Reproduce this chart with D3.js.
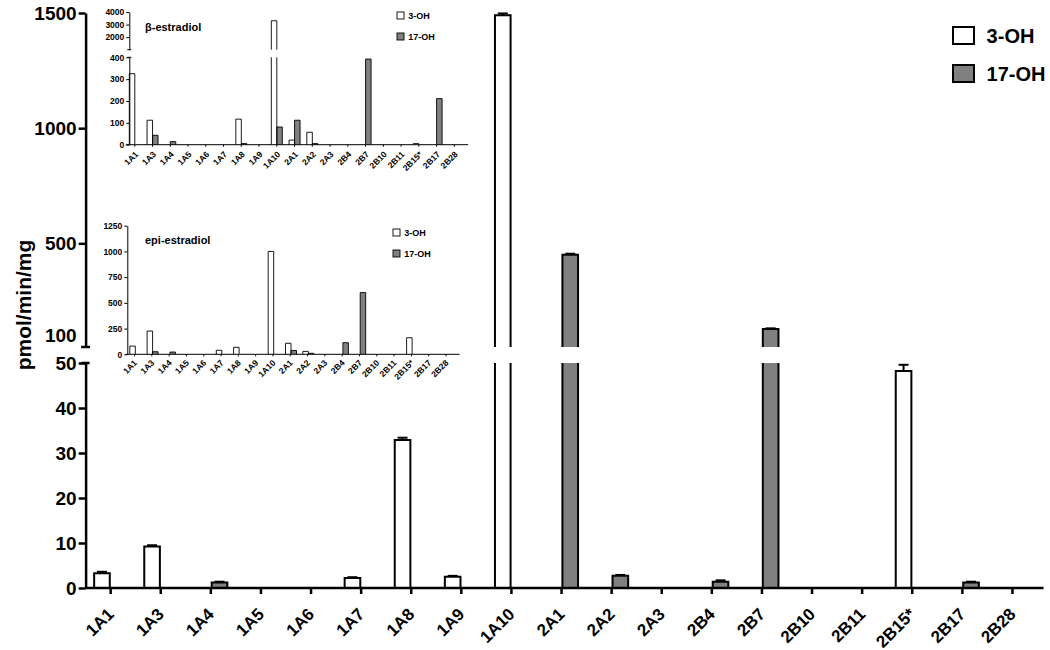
<!DOCTYPE html>
<html>
<head>
<meta charset="utf-8">
<script src="https://cdn.jsdelivr.net/npm/d3@7"></script>
<style>
  body { margin: 0; background: #fff; }
  text { font-family: "Liberation Sans", Arial, sans-serif; font-weight: bold; }
</style>
</head>
<body>
<script>
// categories and series
const categories = ["1A1", "1A3", "1A4", "1A5", "1A6", "1A7", "1A8", "1A9", "1A10", "2A1",
    "2A2", "2A3", "2B4", "2B7", "2B10", "2B11", "2B15*", "2B17", "2B28"];
const series = ["3-OH", "17-OH"];

// main chart values (pmol/min/mg) with SEM
const mainOH3 = [3.3, 9.2, null, null, null, 2.2, 32.9, 2.5, 1490, null,
    null, null, null, null, null, null, 48.2, null, null];
const mainOH3Err = [0.3, 0.3, 0, 0, 0, 0.2, 0.5, 0.2, 8, 0,
    0, 0, 0, 0, 0, 0, 1.4, 0, 0];
const mainOH17 = [null, null, 1.2, null, null, null, null, null, null, 450,
    2.7, null, 1.4, 128, null, null, null, 1.2, null];
const mainOH17Err = [0, 0, 0.2, 0, 0, 0, 0, 0, 0, 5,
    0.2, 0, 0.3, 3, 0, 0, 0, 0.2, 0];

// inset: beta-estradiol
const betaOH3 = [325, 112, null, null, null, null, 117, null, 3300, 21,
    57, null, null, null, null, null, 5, null, null];
const betaOH17 = [null, 43, 14, null, null, null, 5, null, 81, 112,
    5, null, null, 392, null, null, null, 211, null];

// inset: epi-estradiol
const epiOH3 = [80, 226, null, null, null, 39, 68, null, 1000, 107,
    28, null, null, null, null, null, 161, null, null];
const epiOH17 = [null, 25, 22, null, null, null, null, null, null, 37,
    10, null, 113, 600, null, null, null, null, null];

// tick labels
const mainTopTicks = [100, 500, 1000, 1500];
const mainLowTicks = [0, 10, 20, 30, 40, 50];
const betaTopTicks = [2000, 3000, 4000];
const betaLowTicks = [0, 100, 200, 300, 400];
const epiTicks = [0, 250, 500, 750, 1000, 1250];

const fills = {"3-OH": "#ffffff", "17-OH": "#808080"};

const svg = d3.select('body')
    .append('svg')
    .attr('width', 1050)
    .attr('height', 650);

// draws the bars of one axis segment, left open where the axis is cut
function drawBars(g, x, sub, seg, values, sw) {
    const [lo, hi] = seg.y.domain();
    const rows = [];
    categories.forEach((c, i) => series.forEach((s, si) => {
        const v = values[si][i];
        if (v != null && v > lo) rows.push({c: c, s: s, v: v});
    }));
    const g2 = g.append('g');
    g2.selectAll('rect')
        .data(rows)
        .join('rect')
        .attr('x', d => x(d.c) + sub(d.s))
        .attr('y', d => seg.y(Math.min(d.v, hi)))
        .attr('width', sub.bandwidth())
        .attr('height', d => seg.y(lo) - seg.y(Math.min(d.v, hi)))
        .attr('fill', d => fills[d.s]);
    g2.selectAll('path')
        .data(rows)
        .join('path')
        .attr('fill', 'none')
        .attr('stroke', '#000')
        .attr('stroke-width', sw)
        .attr('d', d => {
            const x0 = x(d.c) + sub(d.s), x1 = x0 + sub.bandwidth();
            const yb = seg.y(lo), yt = seg.y(Math.min(d.v, hi));
            return `M${x0},${yb}V${yt}` + (d.v <= hi ? `H${x1}` : `M${x1},${yt}`) + `V${yb}`;
        });
}

function drawYAxis(g, xPos, seg, ticks, size, fontSize, sw, cap) {
    const ax = g.append('g')
        .attr('transform', `translate(${xPos},0)`)
        .call(d3.axisLeft(seg.y).tickValues(ticks).tickFormat(d3.format('d'))
            .tickSize(size).tickSizeOuter(0).tickPadding(2));
    ax.attr('font-family', null);
    ax.select('.domain').attr('stroke-width', sw);
    ax.selectAll('.tick line')
        .attr('stroke-width', sw)
        .attr('x2', d => (cap.noTick || []).includes(d) ? 0 : -size);
    ax.selectAll('.tick text')
        .attr('font-size', fontSize)
        .attr('fill', '#000');
    // caps where the axis is broken
    if (cap.bottom) {
        ax.append('line')
            .attr('x1', -cap.w).attr('x2', cap.w)
            .attr('y1', seg.y.range()[0]).attr('y2', seg.y.range()[0])
            .attr('stroke', '#000').attr('stroke-width', sw);
    }
    if (cap.top) {
        ax.append('line')
            .attr('x1', -cap.w).attr('x2', cap.w)
            .attr('y1', seg.y.range()[1]).attr('y2', seg.y.range()[1])
            .attr('stroke', '#000').attr('stroke-width', sw);
    }
}

function drawXAxis(g, x, yPos, extra, size, fontSize, sw, labelDx, labelDy) {
    const ax = g.append('g')
        .attr('transform', `translate(0,${yPos})`)
        .call(d3.axisBottom(x).tickSize(size).tickSizeOuter(0).tickFormat(''));
    ax.select('.domain')
        .attr('stroke-width', sw)
        .attr('d', `M${x.range()[0]},0H${x.range()[1] + extra}`);
    ax.selectAll('.tick line').attr('stroke-width', sw);

    // slanted category labels, ending at the tick
    const cx = c => x(c) + x.bandwidth() / 2;
    g.append('g')
        .selectAll('text')
        .data(categories)
        .join('text')
        .attr('transform', c => `translate(${cx(c) + labelDx},${yPos + labelDy}) rotate(-45)`)
        .attr('text-anchor', 'end')
        .attr('dy', '0.35em')
        .attr('font-size', fontSize)
        .text(c => c);
}

function drawLegend(g, xPos, yPos, box, gap, fontSize, sw) {
    series.forEach((s, i) => {
        g.append('rect')
            .attr('x', xPos)
            .attr('y', yPos + i * gap)
            .attr('width', box[0])
            .attr('height', box[1])
            .attr('fill', fills[s])
            .attr('stroke', '#000')
            .attr('stroke-width', sw);
        g.append('text')
            .attr('x', xPos + box[0] * 1.6)
            .attr('y', yPos + i * gap + box[1] / 2)
            .attr('dy', '0.35em')
            .attr('font-size', fontSize)
            .text(s);
    });
}

// ---------- main chart ----------
function MainChart() {
    const g = svg.append('g');
    const x = d3.scaleBand().domain(categories).range([85.6, 1037.5]).padding(0);
    const sub = d3.scaleBand().domain(series).range([-16.5, 16.5]).paddingInner(0.1);
    const low = {y: d3.scaleLinear().domain([0, 50]).range([588, 363])};
    const top = {y: d3.scaleLinear().domain([50, 1500]).range([347, 13])};

    // bar groups are centred on the tick
    const xc = d3.scaleBand().domain(categories)
        .range([85.6 + x.bandwidth() / 2, 1037.5 + x.bandwidth() / 2]).padding(0);
    drawBars(g, xc, sub, low, [mainOH3, mainOH17], 2);
    drawBars(g, xc, sub, top, [mainOH3, mainOH17], 2);

    // error bars (upper half only)
    const errRows = [];
    categories.forEach((c, i) => {
        [[mainOH3, mainOH3Err, "3-OH"], [mainOH17, mainOH17Err, "17-OH"]].forEach(([v, e, s]) => {
            if (v[i] != null && e[i] > 0) errRows.push({c: c, s: s, v: v[i], e: e[i]});
        });
    });
    const yOf = val => val > 50 ? top.y(val) : low.y(val);
    const eg = g.append('g').attr('stroke', '#000').attr('stroke-width', 2);
    errRows.forEach(d => {
        const cx = xc(d.c) + sub(d.s) + sub.bandwidth() / 2;
        eg.append('line')
            .attr('x1', cx).attr('x2', cx)
            .attr('y1', yOf(d.v)).attr('y2', yOf(d.v + d.e));
        eg.append('line')
            .attr('x1', cx - 5).attr('x2', cx + 5)
            .attr('y1', yOf(d.v + d.e)).attr('y2', yOf(d.v + d.e));
    });

    drawYAxis(g, 85.6, low, mainLowTicks, 7, 19, 2.5, {top: true, w: 4});
    drawYAxis(g, 85.6, top, mainTopTicks, 7, 19, 2.5, {bottom: true, w: 4.5, noTick: [100]});
    drawXAxis(g, x, 588, 6, 6, 17, 2.5, 0, 23);

    g.append('text')
        .attr('transform', 'translate(24,305) rotate(-90)')
        .attr('text-anchor', 'middle')
        .attr('dy', '0.35em')
        .attr('font-size', 21)
        .text('pmol/min/mg');

    drawLegend(g, 953, 27, [21, 17], 38, 20, 2);
}

// ---------- inset charts ----------
function InsetBeta() {
    const g = svg.append('g');
    const x = d3.scaleBand().domain(categories).range([129.3, 466.6]).padding(0);
    const sub = d3.scaleBand().domain(series).range([0, 11]).padding(0);
    const low = {y: d3.scaleLinear().domain([0, 400]).range([144.7, 57.3])};
    const top = {y: d3.scaleLinear().domain([1000, 4000]).range([49.7, 12])};
    drawBars(g, x, sub, low, [betaOH3, betaOH17], 0.9);
    drawBars(g, x, sub, top, [betaOH3, betaOH17], 0.9);
    drawYAxis(g, 129.3, low, betaLowTicks, 3, 8.5, 1, {top: true, w: 2});
    drawYAxis(g, 129.3, top, betaTopTicks, 3, 8.5, 1, {bottom: true, w: 2});
    // ticks under the centre of each bar pair
    const xt = d3.scaleBand().domain(categories).range([129.3 - 3.4, 466.6 - 3.4]).padding(0);
    drawXAxis(g, xt, 144.7, 5, 2, 8.5, 1, 2, 8);
    g.append('text')
        .attr('x', 145)
        .attr('y', 27)
        .attr('dy', '0.35em')
        .attr('font-size', 11)
        .text('\u03b2-estradiol');
    drawLegend(g, 397, 12, [7, 7], 21, 9, 0.9);
}

function InsetEpi() {
    const g = svg.append('g');
    const x = d3.scaleBand().domain(categories).range([128.3, 457]).padding(0);
    const sub = d3.scaleBand().domain(series).range([1.5, 12.5]).padding(0);
    const y = {y: d3.scaleLinear().domain([0, 1250]).range([354.3, 225.7])};
    drawBars(g, x, sub, y, [epiOH3, epiOH17], 0.9);
    drawYAxis(g, 127.3, y, epiTicks, 3, 8.5, 1, {});
    const xt = d3.scaleBand().domain(categories).range([128.3 - 2.4, 457 - 2.4]).padding(0);
    drawXAxis(g, xt, 354.3, 5, 2, 8.5, 1, 1, 7);
    g.append('text')
        .attr('x', 145)
        .attr('y', 240)
        .attr('dy', '0.35em')
        .attr('font-size', 11)
        .text('epi-estradiol');
    drawLegend(g, 393, 229, [7, 7], 21, 9, 0.9);
}

MainChart();
InsetBeta();
InsetEpi();
</script>
</body>
</html>
